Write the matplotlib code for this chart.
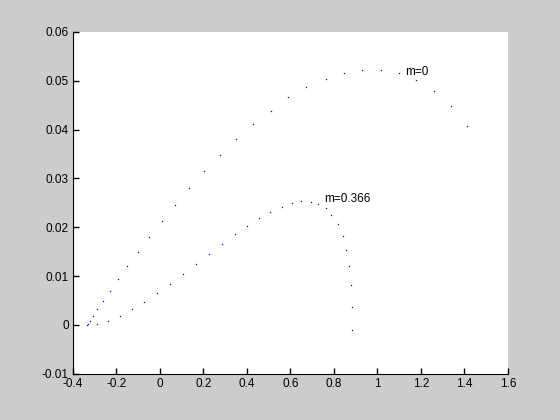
import matplotlib
matplotlib.use('Agg')
import matplotlib.pyplot as plt
import matplotlib.ticker as ticker

# Curve for m=0
x_m0 = [-0.333, -0.330, -0.321, -0.307, -0.289, -0.261, -0.229, -0.192, -0.151,
        -0.100, -0.049, 0.011, 0.071, 0.135, 0.204, 0.278, 0.352, 0.430, 0.513,
        0.591, 0.674, 0.762, 0.845, 0.928, 1.015, 1.098, 1.177, 1.260, 1.338, 1.412]
y_m0 = [0.0, 0.00012, 0.00082, 0.00184, 0.00327, 0.00491, 0.00695, 0.00941, 0.01207,
        0.01493, 0.01800, 0.02127, 0.02454, 0.02802, 0.03149, 0.03476, 0.03804, 0.04110,
        0.04376, 0.04663, 0.04867, 0.05031, 0.05153, 0.05215, 0.05215, 0.05153, 0.05010,
        0.04785, 0.04479, 0.04070]

# Curve for m=0.366
x_m366 = [-0.289, -0.236, -0.183, -0.128, -0.072, -0.012, 0.048, 0.107, 0.167, 0.227,
          0.287, 0.347, 0.402, 0.458, 0.508, 0.560, 0.607, 0.651, 0.693, 0.729, 0.762,
          0.789, 0.817, 0.840, 0.854, 0.868, 0.877, 0.882, 0.882]
y_m366 = [0.0002, 0.00082, 0.00184, 0.00327, 0.00470, 0.00654, 0.00838, 0.01043, 0.01247,
          0.01452, 0.01656, 0.01861, 0.02025, 0.02188, 0.02311, 0.02413, 0.02495, 0.02536,
          0.02515, 0.02474, 0.02393, 0.02249, 0.02065, 0.01820, 0.01534, 0.01207, 0.00818,
          0.00368, -0.00102]

plt.rcParams['font.family'] = ['Liberation Sans', 'DejaVu Sans']

fig = plt.figure(figsize=(5.6, 4.2), dpi=100, facecolor='#cccccc')
ax = fig.add_axes([0.13, 0.11, 0.777, 0.814])

# single pixel blue dots, like matlab's '.' with tiny size
ax.plot(x_m0, y_m0, linestyle='none', marker='s', markersize=0.9, mew=0, color='blue')
ax.plot(x_m366, y_m366, linestyle='none', marker='s', markersize=0.9, mew=0, color='blue')

ax.text(1.126, 0.0517, 'm=0', fontsize=8.5, va='center', ha='left')
ax.text(0.757, 0.0258, 'm=0.366', fontsize=8.5, va='center', ha='left')

ax.set_xlim(-0.4, 1.6)
ax.set_ylim(-0.01, 0.06)
ax.xaxis.set_major_locator(ticker.MultipleLocator(0.2))
ax.yaxis.set_major_locator(ticker.MultipleLocator(0.01))
ax.xaxis.set_major_formatter(ticker.FuncFormatter(lambda v, p: f"{round(v, 2):g}"))
ax.yaxis.set_major_formatter(ticker.FuncFormatter(lambda v, p: f"{round(v, 3):g}"))
ax.tick_params(direction='in', length=4, width=1, labelsize=8.5, pad=3)

ax.spines['top'].set_visible(False)
ax.spines['right'].set_visible(False)

plt.savefig('out.png', dpi=100, facecolor=fig.get_facecolor())
